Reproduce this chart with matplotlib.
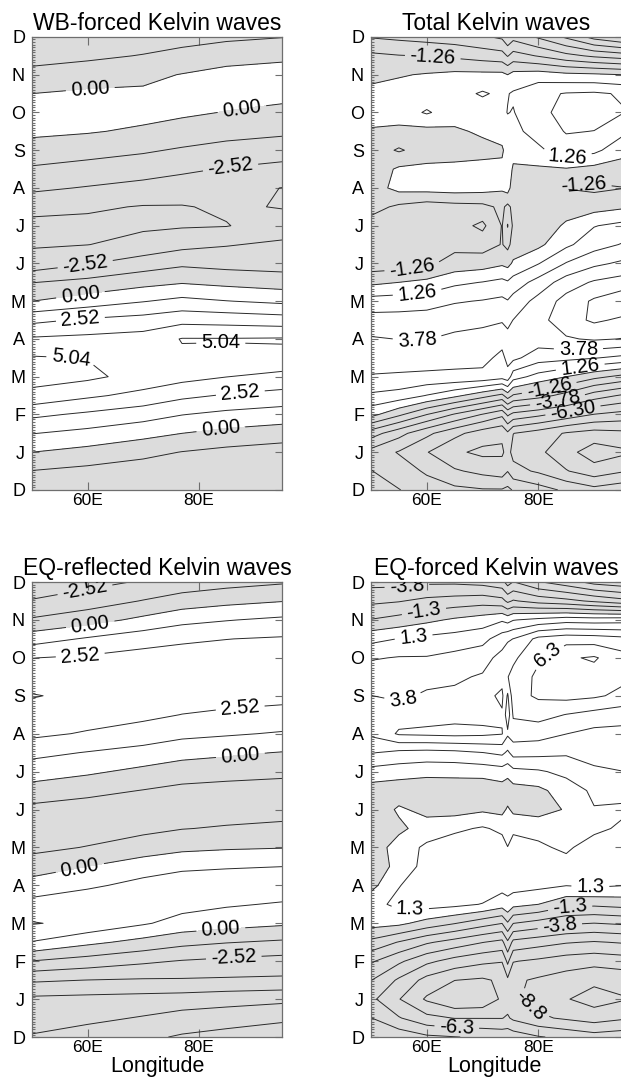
import numpy as np
import matplotlib
matplotlib.use('Agg')
import matplotlib.pyplot as plt
from matplotlib.ticker import MultipleLocator

plt.rcParams['font.family'] = ['Liberation Sans', 'DejaVu Sans']
plt.rcParams['contour.negative_linestyle'] = 'solid'

month_labels = ['D', 'J', 'F', 'M', 'A', 'M', 'J', 'J', 'A', 'S', 'O', 'N', 'D']

# time axis in months from the first December, half-month steps
time_t = [0.0, 0.5, 1.0, 1.5, 2.0, 2.5, 3.0, 3.5, 4.0, 4.5, 5.0, 5.5, 6.0,
          6.5, 7.0, 7.5, 8.0, 8.5, 9.0, 9.5, 10.0, 10.5, 11.0, 11.5, 12.0]

lon_smooth = [50, 60, 70, 77, 85, 95]
lon_fine = [50, 55, 60, 65, 70, 73.5, 74.5, 75.5, 80, 85, 90, 95]

# rows follow time_t, columns follow lon_smooth
wb_forced = [
    [-2.0, -2.1, -2.2, -2.2, -2.1, -1.9],
    [-1.3, -1.6, -1.9, -2.0, -2.1, -2.1],
    [0.0, -0.4, -0.9, -1.3, -1.6, -1.9],
    [1.3, 0.9, 0.4, 0.0, -0.35, -0.6],
    [2.8, 2.3, 1.8, 1.3, 0.95, 0.65],
    [4.7, 4.0, 3.4, 2.8, 2.4, 2.1],
    [5.5, 5.3, 4.6, 4.2, 3.8, 3.4],
    [5.15, 5.0, 4.95, 4.85, 4.8, 4.75],
    [3.95, 4.1, 4.3, 5.1, 5.1, 5.15],
    [2.2, 2.7, 3.0, 3.4, 3.3, 3.1],
    [0.0, 0.6, 1.2, 1.6, 1.3, 1.0],
    [-1.3, -0.9, -0.4, -0.1, -0.35, -0.6],
    [-3.3, -2.6, -1.9, -1.5, -1.7, -1.8],
    [-3.9, -3.8, -3.4, -2.9, -2.6, -2.3],
    [-4.2, -4.1, -3.95, -3.9, -3.83, -3.2],
    [-3.3, -3.6, -3.85, -3.85, -3.6, -3.85],
    [-2.3, -2.6, -2.9, -3.1, -3.4, -3.8],
    [-1.4, -1.7, -2.0, -2.3, -2.6, -2.85],
    [-0.6, -0.8, -1.1, -1.4, -1.7, -2.0],
    [0.3, 0.1, -0.2, -0.5, -0.8, -1.0],
    [0.5, 0.45, 0.4, 0.2, -0.05, -0.3],
    [0.0, 0.2, 0.2, 0.4, 0.45, 0.35],
    [-0.9, -0.6, -0.3, 0.05, 0.4, 0.4],
    [-1.7, -1.5, -1.2, -0.9, -0.5, -0.2],
    [-2.0, -2.1, -1.9, -1.7, -1.5, -1.3],
]

eq_reflected = [
    [-6.4, -6.9, -7.3, -7.7, -8.0, -8.4],
    [-5.8, -6.0, -6.4, -6.8, -7.0, -7.3],
    [-5.3, -5.4, -5.5, -5.6, -5.8, -6.0],
    [-3.6, -3.8, -3.9, -3.9, -3.95, -4.0],
    [-1.3, -1.8, -2.3, -2.6, -2.8, -3.0],
    [1.2, 0.3, -0.4, -0.9, -1.2, -1.45],
    [2.6, 2.2, 1.4, 0.8, 0.5, 0.2],
    [1.7, 2.3, 2.3, 1.7, 1.4, 1.15],
    [0.5, 1.0, 1.7, 2.0, 2.0, 2.0],
    [-0.6, 0.0, 0.6, 1.0, 1.15, 1.25],
    [-1.6, -1.2, -0.6, -0.3, -0.15, -0.05],
    [-2.0, -1.9, -1.6, -1.3, -1.15, -1.0],
    [-1.6, -1.85, -1.9, -1.85, -1.8, -1.7],
    [-0.5, -0.9, -1.3, -1.6, -1.75, -1.9],
    [0.6, 0.2, -0.3, -0.6, -0.75, -0.9],
    [1.6, 1.2, 0.8, 0.4, 0.2, -0.05],
    [2.8, 2.4, 2.0, 1.6, 1.4, 1.15],
    [3.3, 3.1, 2.8, 2.5, 2.3, 2.1],
    [3.85, 3.5, 3.3, 3.1, 3.0, 2.9],
    [3.2, 3.4, 3.4, 3.3, 3.25, 3.2],
    [2.5, 2.7, 3.0, 3.1, 3.1, 3.1],
    [0.7, 1.4, 2.0, 2.3, 2.5, 2.65],
    [-1.1, -0.5, 0.3, 0.9, 1.2, 1.5],
    [-2.45, -1.9, -1.2, -0.7, -0.35, -0.05],
    [-3.2, -2.9, -2.4, -2.0, -1.7, -1.4],
]

# rows follow time_t, columns follow lon_fine
total_kelvin = [
    [-4.5, -5.0, -5.6, -6.0, -6.2, -6.2, -6.0, -6.4, -7.0, -7.8, -8.4, -8.0],
    [-5.0, -5.6, -6.5, -7.4, -7.9, -8.2, -7.6, -8.4, -9.0, -10.0, -10.8, -10.2],
    [-5.5, -6.4, -7.5, -8.6, -9.1, -9.0, -8.4, -9.2, -9.8, -10.9, -12.0, -11.6],
    [-3.2, -4.6, -6.0, -7.2, -8.2, -8.6, -7.8, -8.8, -9.4, -10.2, -10.6, -10.4],
    [0.4, -1.0, -2.5, -3.9, -5.1, -6.0, -4.8, -5.4, -6.0, -6.8, -7.6, -8.0],
    [2.3, 2.0, 1.2, 0.3, -0.8, -1.6, -0.6, -1.4, -2.0, -3.0, -4.4, -5.2],
    [3.7, 3.6, 3.5, 3.5, 3.4, 3.0, 3.3, 1.8, 0.8, 0.0, -0.9, -1.6],
    [4.3, 4.4, 4.4, 4.2, 4.2, 3.4, 4.2, 4.1, 3.1, 2.9, 2.6, 2.2],
    [3.9, 3.75, 3.75, 4.0, 4.2, 4.3, 4.1, 4.3, 4.4, 4.9, 5.2, 5.0],
    [3.0, 3.0, 3.1, 3.4, 3.5, 3.7, 3.5, 3.8, 4.6, 5.8, 6.5, 6.1],
    [1.8, 1.9, 2.0, 2.4, 2.6, 2.8, 2.6, 3.0, 4.2, 5.5, 6.5, 7.2],
    [-0.3, 0.0, 0.3, 1.0, 1.3, 1.6, 1.4, 1.8, 3.0, 4.4, 5.2, 5.6],
    [-2.0, -1.9, -1.5, -0.8, -0.6, -0.2, -0.4, 0.2, 1.2, 2.6, 3.5, 4.0],
    [-2.2, -2.1, -1.9, -1.6, -1.8, -1.2, -1.6, -0.8, -0.3, 1.0, 2.0, 2.6],
    [-1.8, -2.0, -2.2, -2.0, -2.8, -1.2, -2.6, -1.0, -0.8, 0.2, 1.2, 1.6],
    [-0.8, -1.5, -1.9, -1.7, -1.6, -1.0, -1.6, -0.9, -0.8, -0.6, -0.5, -0.2],
    [-0.6, 0.4, 0.5, 0.6, 0.5, 0.2, 0.6, -0.8, -1.0, -1.3, -1.5, -1.3],
    [-0.8, 0.2, 0.3, 0.3, 0.4, 0.3, 0.8, -0.2, -0.2, -0.1, -0.4, -0.5],
    [-0.6, -1.4, -0.7, -0.5, -0.4, -0.2, 0.6, 0.5, 1.0, 2.0, 1.6, 0.4],
    [-0.1, -0.3, -0.4, -0.2, 0.2, 0.6, 0.8, 0.9, 1.8, 2.6, 2.5, 1.6],
    [0.4, 0.6, 1.4, 0.6, 0.6, 1.0, 1.3, 1.2, 2.2, 2.9, 3.0, 2.6],
    [0.3, 0.5, 0.5, 0.8, 1.4, 1.0, 1.2, 1.4, 2.2, 2.6, 2.7, 2.4],
    [-0.3, -0.1, 0.1, 0.3, 0.3, 0.3, 0.0, 0.4, 0.6, 0.3, 0.2, 0.0],
    [-1.0, -1.2, -1.3, -1.5, -1.8, -2.0, -2.6, -2.0, -2.6, -3.4, -4.0, -4.4],
    [-2.6, -2.8, -3.0, -3.2, -3.6, -4.0, -4.8, -4.2, -5.2, -6.5, -8.0, -8.8],
]

eq_forced = [
    [-3.8, -4.2, -4.8, -5.0, -5.2, -5.4, -5.4, -5.6, -6.2, -6.6, -7.0, -6.8],
    [-5.0, -6.2, -7.2, -7.6, -7.6, -7.6, -7.4, -7.8, -8.6, -9.0, -9.4, -9.0],
    [-6.0, -7.5, -9.0, -10.0, -9.8, -8.6, -8.2, -8.6, -9.3, -10.0, -10.6, -10.2],
    [-5.0, -6.5, -8.0, -8.8, -9.0, -8.6, -7.8, -8.6, -9.0, -9.4, -9.8, -9.6],
    [-3.6, -4.8, -6.0, -6.8, -7.3, -7.5, -6.0, -7.5, -7.8, -8.2, -8.4, -8.2],
    [-1.6, -2.6, -3.6, -4.3, -5.0, -5.4, -4.0, -5.4, -5.8, -6.2, -6.4, -6.2],
    [0.5, 0.3, -0.5, -1.2, -2.0, -2.5, -1.4, -2.5, -3.0, -3.6, -3.8, -3.6],
    [0.8, 1.6, 1.8, 1.6, 1.2, 0.6, 1.0, 0.4, 0.0, -0.9, -1.0, -0.8],
    [-0.4, 1.2, 2.0, 2.4, 2.2, 1.7, 1.6, 1.8, 1.6, 1.3, 1.5, 1.3],
    [-0.6, 0.3, 1.8, 2.4, 2.3, 1.9, 1.5, 1.9, 1.4, 1.8, 1.8, 1.4],
    [-0.8, 0.6, 1.5, 2.0, 2.2, 1.8, 1.3, 1.8, 1.5, 1.0, 2.0, 2.2],
    [-0.5, -0.3, 0.6, 1.0, 1.4, 1.0, 0.4, 1.0, 0.8, 0.3, 0.9, 1.5],
    [-1.0, 0.2, -0.4, -0.5, -0.2, -0.4, 0.2, -0.3, -0.5, 0.1, 1.2, 1.0],
    [-0.6, -0.8, -0.9, -0.8, -0.9, -0.6, -0.9, -0.5, -0.3, 0.6, 1.5, 1.8],
    [0.8, 0.6, 0.4, 0.4, 0.5, 0.7, 0.5, 0.9, 1.1, 1.6, 2.3, 2.5],
    [2.6, 2.2, 2.1, 2.2, 2.5, 2.8, 2.3, 3.0, 2.9, 2.7, 3.0, 3.1],
    [4.0, 5.2, 5.3, 5.4, 5.3, 5.1, 4.0, 4.4, 4.3, 3.8, 3.4, 3.4],
    [4.2, 4.5, 4.6, 4.7, 4.7, 4.9, 3.0, 5.2, 5.5, 5.0, 4.6, 4.3],
    [3.8, 3.5, 4.0, 4.0, 4.6, 5.3, 3.6, 5.8, 6.5, 6.7, 6.5, 6.0],
    [3.3, 3.1, 3.3, 3.6, 3.9, 4.6, 5.0, 5.4, 6.6, 7.0, 7.1, 6.6],
    [2.4, 2.6, 2.6, 2.9, 3.3, 4.2, 4.6, 4.8, 6.1, 7.4, 7.7, 6.8],
    [0.9, 1.3, 1.6, 1.8, 2.1, 3.2, 3.6, 3.8, 5.4, 5.8, 5.7, 5.4],
    [-1.2, -0.8, -0.3, 0.2, 0.6, 1.1, 0.8, 1.2, 1.6, 2.0, 1.9, 2.0],
    [-2.8, -2.6, -2.2, -2.0, -1.8, -2.1, -2.8, -2.4, -3.0, -3.4, -4.0, -4.6],
    [-4.2, -4.2, -4.0, -4.0, -4.2, -4.6, -5.6, -5.0, -6.2, -7.0, -8.0, -8.4],
]

# contour interval of 1.26, every second line carries a label
LEVELS = np.arange(-12, 13) * 1.26
GRAY = '#dcdcdc'
LINE = '#2a2a2a'
FRAME = '#6e6e6e'

panels = [
    dict(title='WB-forced Kelvin waves', lon=lon_smooth, z=wb_forced,
         labels=[-2.52, 0.0, 2.52, 5.04], fmt='%.2f',
         spots=[(60.5, 10.6), (87.8, 10.07), (85.7, 8.6), (59.6, 5.96),
                (58.7, 5.2), (58.7, 4.55), (57, 3.5), (84, 3.73),
                (87.5, 2.57), (84, 1.6)]),
    dict(title='Total Kelvin waves', lon=lon_fine, z=total_kelvin,
         labels=[-6.30, -3.78, -1.26, 1.26, 3.78], fmt='%.2f',
         spots=[(61.1, 11.52), (85.2, 8.83), (88.1, 8.17), (57.5, 5.75),
                (58.3, 5.2), (58.3, 4.03), (87.2, 3.63), (87.5, 3.27),
                (82.1, 2.6), (83.6, 2.25), (86.3, 2.03)]),
    dict(title='EQ-reflected Kelvin waves', lon=lon_smooth, z=eq_reflected,
         labels=[-2.52, 0.0, 2.52], fmt='%.2f',
         spots=[(59.6, 11.74), (60.5, 10.87), (58.7, 10.03), (87.5, 8.63),
                (87.5, 7.44), (58.7, 4.4), (84, 2.82), (86.3, 2.16)]),
    dict(title='EQ-forced Kelvin waves', lon=lon_fine, z=eq_forced,
         labels=[-8.82, -6.30, -3.78, -1.26, 1.26, 3.78, 6.30], fmt='%.1f',
         spots=[(56.5, 11.79), (59.3, 11.4), (57.5, 10.74), (80.9, 10.26),
                (55.7, 8.9), (89.3, 3.88), (57, 3.3), (85.7, 3.3),
                (83.9, 2.88), (78.2, 0.77), (65.4, 0.37)]),
]

# axes boxes in figure fractions (left, bottom, width, height)
boxes = [
    [0.0515, 0.5455, 0.4026, 0.4202],
    [0.5974, 0.5455, 0.4042, 0.4202],
    [0.0515, 0.0380, 0.4026, 0.4221],
    [0.5974, 0.0380, 0.4042, 0.4221],
]


def draw_panel(ax, p):
    z = np.array(p['z'])
    lab = list(p['labels'])
    plain = [lv for lv in LEVELS if not np.any(np.isclose(lv, lab))]
    ax.contourf(p['lon'], time_t, z, levels=[-100, 0], colors=[GRAY])
    ax.contour(p['lon'], time_t, z, levels=plain, colors=LINE,
               linewidths=0.7)
    cs = ax.contour(p['lon'], time_t, z, levels=lab, colors=LINE,
                    linewidths=0.7)
    ax.clabel(cs, fmt=p['fmt'], fontsize=14.5, inline=True, colors='black',
              inline_spacing=5, manual=p['spots'])

    ax.set_xlim(50, 95)
    ax.set_ylim(0, 12)
    ax.set_xticks([60, 80])
    ax.set_xticklabels(['60E', '80E'])
    ax.set_yticks(range(13))
    ax.set_yticklabels(month_labels)
    ax.yaxis.set_minor_locator(MultipleLocator(1 / 15))
    ax.tick_params(axis='both', which='both', direction='in', top=True,
                   right=True, color=FRAME, labelsize=13, width=0.8)
    ax.tick_params(axis='y', which='major', length=5, pad=5)
    ax.tick_params(axis='y', which='minor', length=2.5, right=False)
    ax.tick_params(axis='x', which='major', length=6, pad=2, labelsize=12.5)
    for s in ax.spines.values():
        s.set_color(FRAME)
        s.set_linewidth(0.9)
    ax.set_title(p['title'], fontsize=16.5, pad=5)


fig = plt.figure(figsize=(6.21, 10.78), dpi=100)
for i, (p, b) in enumerate(zip(panels, boxes)):
    ax = fig.add_axes(b)
    draw_panel(ax, p)
    if i >= 2:
        # axis title sits on its baseline just above the lower edge
        fig.text(b[0] + b[2] * 0.5 if i == 2 else 0.7965, 0.0055,
                 'Longitude', fontsize=15.5, ha='center', va='baseline')

fig.savefig('out.png', dpi=100)
